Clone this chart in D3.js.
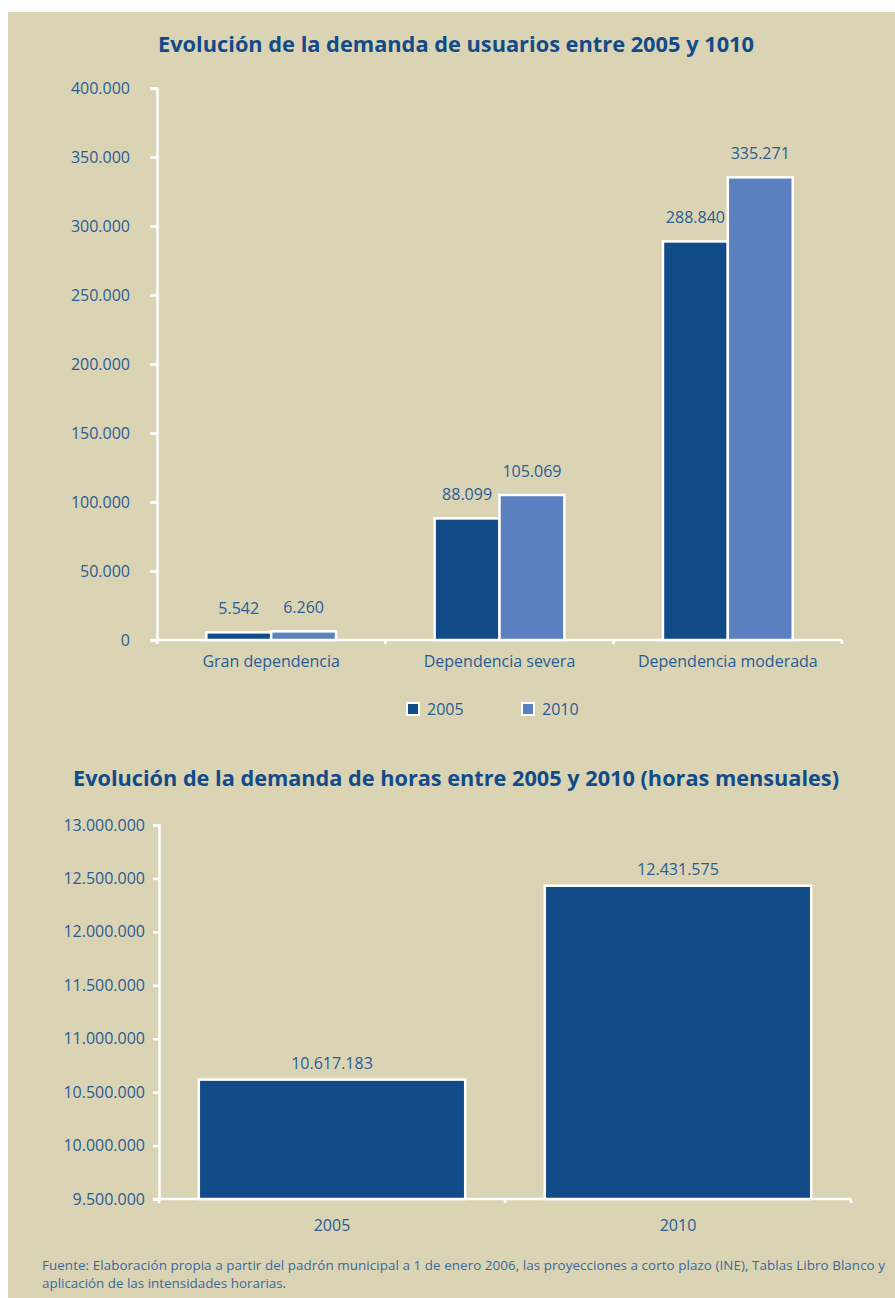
<!DOCTYPE html>
<html>
<head>
<meta charset="utf-8">
<script src="https://cdn.jsdelivr.net/npm/d3@7"></script>
<style>
  body { margin: 0; background: #ffffff; }
  svg { display: block; font-family: "Open Sans", "Noto Sans", sans-serif; }
</style>
</head>
<body>
<svg id="chart" width="895" height="1298"></svg>
<script>
// data - top chart (usuarios)
let categories = ['Gran dependencia', 'Dependencia severa', 'Dependencia moderada'];
let years = ['2005', '2010'];
let users2005 = [5542, 88099, 288840];
let users2010 = [6260, 105069, 335271];
let userTicks = [0, 50000, 100000, 150000, 200000, 250000, 300000, 350000, 400000];

// data - bottom chart (horas mensuales)
let hourYears = ['2005', '2010'];
let hours = [10617183, 12431575];
let hourTicks = [9500000, 10000000, 10500000, 11000000, 11500000, 12000000, 12500000, 13000000];

let darkBlue = '#114b88';
let lightBlue = '#5b80bf';
let textColor = '#2a5c95';

let es = d3.formatLocale({ decimal: ',', thousands: '.', grouping: [3], currency: ['', ' €'] });
let format = es.format(',d');

let svg = d3.select('#chart');

// page background
svg.append('rect')
  .attr('x', 8).attr('y', 12)
  .attr('width', 887).attr('height', 1286)
  .attr('fill', '#dad4b4');

function title(txt, cx, y, len) {
  svg.append('text')
    .attr('x', cx).attr('y', y)
    .attr('text-anchor', 'middle')
    .attr('textLength', len)
    .attr('lengthAdjust', 'spacingAndGlyphs')
    .style('font-size', '21px')
    .style('font-weight', 'bold')
    .style('fill', '#124b89')
    .text(txt);
}

function styleAxis(g) {
  g.select('.domain').attr('stroke', '#fff').attr('stroke-width', 2.5);
  g.selectAll('.tick line').attr('stroke', '#fff').attr('stroke-width', 2.5);
  g.selectAll('.tick text').style('fill', textColor).style('font-size', '16px')
    .style('font-family', '"Open Sans", sans-serif');
}

// ---------- chart 1 ----------
title('Evolución de la demanda de usuarios entre 2005 y 1010', 456, 52, 596);

let x = d3.scaleBand().domain(categories).range([157, 842]);
let xSub = d3.scaleBand().domain(years).range([0, x.bandwidth()]).paddingOuter(0.76);
let y = d3.scaleLinear().domain([0, 400000]).range([640, 88]);

let yAxis = svg.append('g')
  .attr('transform', 'translate(157,0)')
  .call(d3.axisLeft(y).tickValues(userTicks).tickFormat(format).tickSize(7).tickSizeOuter(7).tickPadding(20));
styleAxis(yAxis);

// x axis line with small ticks at band edges
let xEdges = categories.map(c => x(c)).concat([x(categories[categories.length - 1]) + x.bandwidth()]);
svg.append('line')
  .attr('x1', 150).attr('x2', xEdges[xEdges.length - 1])
  .attr('y1', y(0)).attr('y2', y(0))
  .attr('stroke', '#fff').attr('stroke-width', 2.5);
svg.selectAll('.xtick1').data(xEdges).enter().append('line')
  .attr('x1', d => d).attr('x2', d => d)
  .attr('y1', y(0)).attr('y2', y(0) + 4)
  .attr('stroke', '#fff').attr('stroke-width', 2.5);

let rows = categories.map((c, i) => ({ cat: c, values: [
  { year: '2005', value: users2005[i] },
  { year: '2010', value: users2010[i] }
]}));

let group = svg.selectAll('.grp').data(rows).enter().append('g')
  .attr('transform', d => `translate(${x(d.cat)},0)`);

group.selectAll('rect').data(d => d.values).enter().append('rect')
  .attr('x', d => xSub(d.year))
  .attr('y', d => y(d.value))
  .attr('width', xSub.bandwidth())
  .attr('height', d => y(0) - y(d.value))
  .attr('fill', d => d.year == '2005' ? darkBlue : lightBlue)
  .attr('stroke', '#fff')
  .attr('stroke-width', 2.5);

group.selectAll('.val').data(d => d.values).enter().append('text')
  .attr('x', d => xSub(d.year) + xSub.bandwidth() / 2)
  .attr('y', d => y(d.value) - 18)
  .attr('text-anchor', 'middle')
  .style('font-size', '16px')
  .style('fill', textColor)
  .text(d => format(d.value));

svg.selectAll('.catlab').data(categories).enter().append('text')
  .attr('x', d => x(d) + x.bandwidth() / 2)
  .attr('y', y(0) + 27)
  .attr('text-anchor', 'middle')
  .style('font-size', '16px')
  .style('fill', textColor)
  .text(d => d);

// legend
let legend = svg.selectAll('.leg').data(years).enter().append('g')
  .attr('transform', (d, i) => `translate(${407 + i * 115},703)`);
legend.append('rect')
  .attr('width', 12).attr('height', 12)
  .attr('fill', d => d == '2005' ? darkBlue : lightBlue)
  .attr('stroke', '#fff').attr('stroke-width', 2);
legend.append('text')
  .attr('x', 20).attr('y', 12)
  .style('font-size', '16px')
  .style('fill', textColor)
  .text(d => d);

// ---------- chart 2 ----------
title('Evolución de la demanda de horas entre 2005 y 2010 (horas mensuales)', 456, 786, 766);

let x2 = d3.scaleBand().domain(hourYears).range([159, 851]).paddingInner(0.23).paddingOuter(0.115);
let y2 = d3.scaleLinear().domain([9500000, 13000000]).range([1199, 825]);

let yAxis2 = svg.append('g')
  .attr('transform', 'translate(159,0)')
  .call(d3.axisLeft(y2).tickValues(hourTicks).tickFormat(format).tickSize(6).tickSizeOuter(6).tickPadding(8));
styleAxis(yAxis2);

let step2 = x2.step();
let x2Edges = [159, 159 + step2, 851];
svg.append('line')
  .attr('x1', 153).attr('x2', 851)
  .attr('y1', y2(9500000)).attr('y2', y2(9500000))
  .attr('stroke', '#fff').attr('stroke-width', 2.5);
svg.selectAll('.xtick2').data(x2Edges).enter().append('line')
  .attr('x1', d => d).attr('x2', d => d)
  .attr('y1', y2(9500000)).attr('y2', y2(9500000) + 4)
  .attr('stroke', '#fff').attr('stroke-width', 2.5);

let hourData = hourYears.map((d, i) => ({ year: d, value: hours[i] }));

svg.selectAll('.hbar').data(hourData).enter().append('rect')
  .attr('x', d => x2(d.year))
  .attr('y', d => y2(d.value))
  .attr('width', x2.bandwidth())
  .attr('height', d => y2(9500000) - y2(d.value))
  .attr('fill', darkBlue)
  .attr('stroke', '#fff')
  .attr('stroke-width', 2.5);

svg.selectAll('.hval').data(hourData).enter().append('text')
  .attr('x', d => x2(d.year) + x2.bandwidth() / 2)
  .attr('y', d => y2(d.value) - 11)
  .attr('text-anchor', 'middle')
  .style('font-size', '16px')
  .style('fill', textColor)
  .text(d => format(d.value));

svg.selectAll('.hcat').data(hourYears).enter().append('text')
  .attr('x', d => x2(d) + x2.bandwidth() / 2)
  .attr('y', y2(9500000) + 32)
  .attr('text-anchor', 'middle')
  .style('font-size', '16px')
  .style('fill', textColor)
  .text(d => d);

// footnote
svg.append('text')
  .attr('x', 42).attr('y', 1270)
  .attr('textLength', 843)
  .attr('lengthAdjust', 'spacing')
  .style('font-size', '13.4px')
  .style('fill', '#3a69a0')
  .text('Fuente: Elaboración propia a partir del padrón municipal a 1 de enero 2006, las proyecciones a corto plazo (INE), Tablas Libro Blanco y');
svg.append('text')
  .attr('x', 42).attr('y', 1288)
  .style('font-size', '13.4px')
  .style('fill', '#3a69a0')
  .text('aplicación de las intensidades horarias.');
</script>
</body>
</html>
